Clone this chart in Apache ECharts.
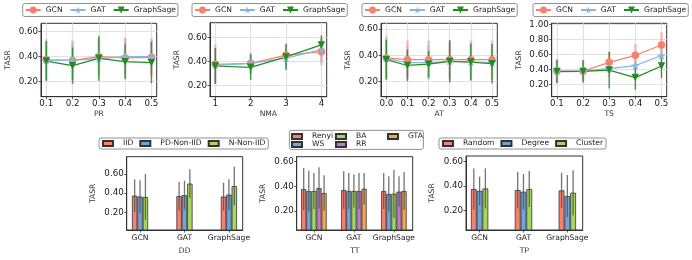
<!DOCTYPE html>
<html><head><meta charset="utf-8">
<script src="https://cdn.jsdelivr.net/npm/echarts@6/dist/echarts.min.js"></script>
<style>html,body{margin:0;padding:0;background:#fff}#c{width:692px;height:260px}</style>
</head><body><div id="c"></div>
<script>
// ---------------- data ----------------
const modelNames = ['GCN', 'GAT', 'GraphSage'];

const prX = [0.1, 0.2, 0.3, 0.4, 0.5];
const prGCN = [0.375, 0.37, 0.40, 0.39, 0.395];
const prGCNErr = [0.165, 0.16, 0.15, 0.16, 0.15];
const prGAT = [0.37, 0.37, 0.385, 0.40, 0.40];
const prGATErr = [0.15, 0.14, 0.15, 0.15, 0.14];
const prSage = [0.365, 0.328, 0.387, 0.36, 0.352];
const prSageErr = [0.16, 0.145, 0.18, 0.14, 0.165];

const nmaX = [1, 2, 3, 4];
const nmaGCN = [0.378, 0.386, 0.455, 0.483];
const nmaGCNErr = [0.165, 0.09, 0.09, 0.11];
const nmaGAT = [0.37, 0.385, 0.43, 0.50];
const nmaGATErr = [0.14, 0.08, 0.09, 0.10];
const nmaSage = [0.364, 0.353, 0.44, 0.54];
const nmaSageErr = [0.15, 0.105, 0.11, 0.08];

const atX = [0.0, 0.1, 0.2, 0.3, 0.4, 0.5];
const atGCN = [0.38, 0.367, 0.367, 0.367, 0.367, 0.367];
const atGCNErr = [0.165, 0.145, 0.145, 0.145, 0.145, 0.145];
const atGAT = [0.375, 0.345, 0.345, 0.355, 0.35, 0.345];
const atGATErr = [0.15, 0.12, 0.13, 0.14, 0.14, 0.13];
const atSage = [0.367, 0.323, 0.333, 0.354, 0.349, 0.336];
const atSageErr = [0.15, 0.12, 0.10, 0.16, 0.14, 0.15];

const tsX = [0.1, 0.2, 0.3, 0.4, 0.5];
const tsGCN = [0.378, 0.378, 0.493, 0.587, 0.724];
const tsGCNErr = [0.165, 0.14, 0.14, 0.15, 0.17];
const tsGAT = [0.375, 0.38, 0.41, 0.45, 0.585];
const tsGATErr = [0.15, 0.13, 0.11, 0.10, 0.10];
const tsSage = [0.37, 0.373, 0.39, 0.29, 0.445];
const tsSageErr = [0.15, 0.15, 0.245, 0.16, 0.16];

const barCategories = ['GCN', 'GAT', 'GraphSage'];

const ddNames = ['IID', 'PD-Non-IID', 'N-Non-IID'];
const ddIID = [0.375, 0.37, 0.365];
const ddIIDErr = [0.17, 0.15, 0.145];
const ddPD = [0.365, 0.38, 0.385];
const ddPDErr = [0.17, 0.15, 0.16];
const ddN = [0.36, 0.50, 0.475];
const ddNErr = [0.24, 0.15, 0.2];

const ttNames = ['Renyi', 'WS', 'BA', 'RR', 'GTA'];
const ttRenyi = [0.378, 0.37, 0.362];
const ttRenyiErr = [0.17, 0.152, 0.146];
const ttWS = [0.362, 0.362, 0.338];
const ttWSErr = [0.165, 0.146, 0.143];
const ttBA = [0.362, 0.362, 0.34];
const ttBAErr = [0.146, 0.133, 0.195];
const ttRR = [0.386, 0.362, 0.357];
const ttRRErr = [0.168, 0.146, 0.124];
const ttGTA = [0.346, 0.38, 0.362];
const ttGTAErr = [0.143, 0.128, 0.154];

const tpNames = ['Random', 'Degree', 'Cluster'];
const tpRandom = [0.375, 0.367, 0.364];
const tpRandomErr = [0.17, 0.15, 0.146];
const tpDegree = [0.36, 0.353, 0.318];
const tpDegreeErr = [0.117, 0.146, 0.172];
const tpCluster = [0.38, 0.375, 0.345];
const tpClusterErr = [0.165, 0.148, 0.185];

const yTicksLow = [0.2, 0.4, 0.6];
const yTicksTS = [0.2, 0.4, 0.6, 0.8, 1.0];

// ---------------- styles / layout ----------------
const FONT = 'DejaVu Sans';
const starPath = 'path://M0,-10 L2.23,-3.07 L9.51,-3.09 L3.61,1.17 L5.88,8.09 L0,3.8 L-5.88,8.09 L-3.61,1.17 L-9.51,-3.09 L-2.23,-3.07 Z';
const triDown = 'path://M0,0 L10,0 L5,10 Z';
const lineStyles = [
  {color: '#fa7f6f', symbol: 'circle', size: 7.5, errColor: 'rgba(250,127,111,0.45)', errW: 2.6},
  {color: '#86b6e2', symbol: starPath, size: 9, errColor: 'rgba(134,182,226,0.55)', errW: 2},
  {color: '#238b23', symbol: triDown, size: 7.5, errColor: 'rgba(35,139,35,0.85)', errW: 1.4}
];
const barColors = {
  red: '#fa7f6f', blue: '#6fa5d8', green: '#a6d65b', purple: '#b77fc4', orange: '#f8a64b'
};

const linePanels = [
  {title: 'PR', x: prX, dec: 1, xr: [0.08, 0.52], yr: [0.08, 0.667], yt: yTicksLow,
   box: [41, 23.3, 115.7, 73.4], legendLeft: 22.7,
   s: [[prGCN, prGCNErr], [prGAT, prGATErr], [prSage, prSageErr]]},
  {title: 'NMA', x: nmaX, dec: 0, xr: [0.85, 4.15], yr: [0.108, 0.725], yt: yTicksLow,
   box: [210, 22.7, 116.7, 74], legendLeft: 192,
   s: [[nmaGCN, nmaGCNErr], [nmaGAT, nmaGATErr], [nmaSage, nmaSageErr]]},
  {title: 'AT', x: atX, dec: 1, xr: [-0.025, 0.525], yr: [0.086, 0.643], yt: yTicksLow,
   box: [381, 23.3, 116.3, 73.4], legendLeft: 362,
   s: [[atGCN, atGCNErr], [atGAT, atGATErr], [atSage, atSageErr]]},
  {title: 'TS', x: tsX, dec: 1, xr: [0.08, 0.52], yr: [0.036, 1.013], yt: yTicksTS,
   box: [551.7, 23.3, 115, 73.4], legendLeft: 533,
   s: [[tsGCN, tsGCNErr], [tsGAT, tsGATErr], [tsSage, tsSageErr]]}
];

const barPanels = [
  {title: 'DD', names: ddNames, xr: [-0.3, 2.31], yr: [0.016, 0.781], barPx: 5.4, spacing: 44.5,
   box: [126.7, 156.7, 116, 73.3],
   colors: [barColors.red, barColors.blue, barColors.green],
   s: [[ddIID, ddIIDErr], [ddPD, ddPDErr], [ddN, ddNErr]]},
  {title: 'TT', names: ttNames, xr: [-0.43, 2.47], yr: [0.046, 0.64], barPx: 5.1, spacing: 40,
   box: [296.7, 156.7, 116, 73.3],
   colors: [barColors.red, barColors.blue, barColors.green, barColors.purple, barColors.orange],
   s: [[ttRenyi, ttRenyiErr], [ttWS, ttWSErr], [ttBA, ttBAErr], [ttRR, ttRRErr], [ttGTA, ttGTAErr]]},
  {title: 'TP', names: tpNames, xr: [-0.31, 2.35], yr: [0.038, 0.647], barPx: 5.8, spacing: 44,
   box: [466, 156, 116.7, 74],
   colors: [barColors.red, barColors.blue, barColors.green],
   s: [[tpRandom, tpRandomErr], [tpDegree, tpDegreeErr], [tpCluster, tpClusterErr]]}
];

// ---------------- build ----------------
const grids = [], xAxes = [], yAxes = [], series = [], legends = [], graphics = [];

function errRender(color, width) {
  return function (params, api) {
    const x = api.value(0), lo = api.value(1), hi = api.value(2);
    const p1 = api.coord([x, lo]), p2 = api.coord([x, hi]);
    return {type: 'line', shape: {x1: p1[0], y1: p1[1], x2: p2[0], y2: p2[1]},
            style: {stroke: color, lineWidth: width}};
  };
}

function axisCommon(extra) {
  return Object.assign({
    type: 'value',
    axisLine: {show: true, onZero: false, lineStyle: {color: '#333', width: 1}},
    axisTick: {show: true, length: 2.5, lineStyle: {color: '#333', width: 0.8}},
    nameLocation: 'middle',
    nameTextStyle: {fontSize: 7.6, color: '#333', fontFamily: FONT}
  }, extra);
}

let gi = 0;
linePanels.forEach(p => {
  grids.push({left: p.box[0], top: p.box[1], width: p.box[2], height: p.box[3],
              show: true, borderColor: '#333', borderWidth: 1});
  xAxes.push(axisCommon({
    gridIndex: gi, min: p.xr[0], max: p.xr[1], name: p.title, nameGap: 12.5,
    axisTick: {show: true, length: 2.5, customValues: p.x, lineStyle: {color: '#333', width: 0.8}},
    axisLabel: {customValues: p.x, formatter: v => v.toFixed(p.dec), fontSize: 8.7, margin: 3,
                color: '#1a1a1a', fontFamily: FONT},
    splitLine: {show: true, lineStyle: {color: '#e2e2e2', width: 1.2}}
  }));
  yAxes.push(axisCommon({
    gridIndex: gi, min: p.yr[0], max: p.yr[1], name: 'TASR', nameGap: 29, nameRotate: 90,
    axisTick: {show: true, length: 2.5, customValues: p.yt, lineStyle: {color: '#333', width: 0.8}},
    axisLabel: {customValues: p.yt, formatter: v => v.toFixed(2), fontSize: 8.7, margin: 3,
                color: '#1a1a1a', fontFamily: FONT},
    splitLine: {show: true, lineStyle: {color: '#e2e2e2', width: 1.2}}
  }));
  p.s.forEach((sd, si) => {
    const st = lineStyles[si];
    const mean = sd[0], err = sd[1];
    series.push({
      type: 'custom', xAxisIndex: gi, yAxisIndex: gi, silent: true,
      renderItem: errRender(st.errColor, st.errW), encode: {x: 0, y: [1, 2]},
      data: p.x.map((x, k) => [x, mean[k] - err[k], mean[k] + err[k]])
    });
    series.push({
      type: 'line', name: modelNames[si], xAxisIndex: gi, yAxisIndex: gi, silent: true,
      data: p.x.map((x, k) => [x, mean[k]]),
      symbol: st.symbol, symbolSize: st.size, symbolKeepAspect: true, showSymbol: true,
      lineStyle: {color: st.color, width: 1.2}, itemStyle: {color: st.color}
    });
  });
  legends.push({
    left: p.legendLeft, top: 3.5, orient: 'horizontal', selectedMode: false,
    padding: [2.5, 2], itemGap: 7, itemWidth: 15, itemHeight: 8.5,
    borderColor: '#777', borderWidth: 0.8, borderRadius: 2,
    textStyle: {fontSize: 7.6, color: '#222', fontFamily: FONT},
    data: modelNames.map(n => ({name: n}))
  });
  gi++;
});

barPanels.forEach(p => {
  grids.push({left: p.box[0], top: p.box[1], width: p.box[2], height: p.box[3],
              show: true, borderColor: '#333', borderWidth: 1});
  const catIdx = barCategories.map((c, j) => j);
  xAxes.push(axisCommon({
    gridIndex: gi, min: p.xr[0], max: p.xr[1], name: p.title, nameGap: 17,
    axisTick: {show: true, length: 2.5, customValues: catIdx, lineStyle: {color: '#333', width: 0.8}},
    axisLabel: {customValues: catIdx, formatter: v => barCategories[Math.round(v)], fontSize: 7.6,
                margin: 4, color: '#1a1a1a', fontFamily: FONT},
    splitLine: {show: false}
  }));
  const yt = yTicksLow;
  yAxes.push(axisCommon({
    gridIndex: gi, min: p.yr[0], max: p.yr[1], name: 'TASR', nameGap: 30, nameRotate: 90,
    axisTick: {show: true, length: 2.5, customValues: yt, lineStyle: {color: '#333', width: 0.8}},
    axisLabel: {customValues: yt, formatter: v => v.toFixed(2), fontSize: 8.7, margin: 3,
                color: '#1a1a1a', fontFamily: FONT},
    splitLine: {show: false}
  }));
  const n = p.s.length;
  const w = p.barPx / p.spacing;
  p.s.forEach((sd, si) => {
    const off = (si - (n - 1) / 2) * w;
    const mean = sd[0], err = sd[1];
    series.push({
      type: 'bar', name: p.names[si], xAxisIndex: gi, yAxisIndex: gi, silent: true,
      barWidth: p.barPx, barGap: '-100%',
      data: catIdx.map(j => [j + off, mean[j]]),
      itemStyle: {color: p.colors[si], borderColor: '#333', borderWidth: 0.8}
    });
    series.push({
      type: 'custom', xAxisIndex: gi, yAxisIndex: gi, silent: true, z: 3,
      renderItem: errRender('rgba(80,80,80,0.8)', 1.3), encode: {x: 0, y: [1, 2]},
      data: catIdx.map(j => [j + off, mean[j] - err[j], mean[j] + err[j]])
    });
  });
  gi++;
});

const barLegendBase = {
  orient: 'horizontal', selectedMode: false, icon: 'rect',
  itemWidth: 10, itemHeight: 5,
  textStyle: {fontSize: 7.6, color: '#222', fontFamily: FONT, padding: [0, 0, 0, 5]}
};
// DD legend
legends.push(Object.assign({}, barLegendBase, {
  left: 99, top: 138, padding: [1.5, 3], itemGap: 6,
  borderColor: '#777', borderWidth: 0.8, borderRadius: 2,
  data: ddNames.map(n => ({name: n}))
}));
// TP legend
legends.push(Object.assign({}, barLegendBase, {
  left: 439, top: 138, padding: [1.5, 3], itemGap: 6,
  borderColor: '#777', borderWidth: 0.8, borderRadius: 2,
  data: tpNames.map(n => ({name: n}))
}));
// TT legend: 3 columns, 2 rows
const ttCols = [[ttNames[0], ttNames[1]], [ttNames[2], ttNames[3]], [ttNames[4]]];
const ttColLeft = [291, 335, 387];
ttCols.forEach((col, ci) => {
  legends.push(Object.assign({}, barLegendBase, {
    orient: 'vertical', left: ttColLeft[ci], top: 132.5, padding: 0, itemGap: 0,
    textStyle: {fontSize: 7.6, color: '#222', fontFamily: FONT, padding: [0, 0, 0, 5], lineHeight: 8},
    data: col.map(n => ({name: n}))
  }));
});
graphics.push({type: 'rect', left: 289, top: 130, z: -1,
  shape: {width: 134, height: 19, r: 2},
  style: {fill: '#fff', stroke: '#777', lineWidth: 0.8}});

const chart = echarts.init(document.getElementById('c'));
chart.setOption({
  animation: false,
  backgroundColor: '#fff',
  textStyle: {fontFamily: FONT},
  grid: grids, xAxis: xAxes, yAxis: yAxes, series: series, legend: legends,
  graphic: graphics
});
</script></body></html>
